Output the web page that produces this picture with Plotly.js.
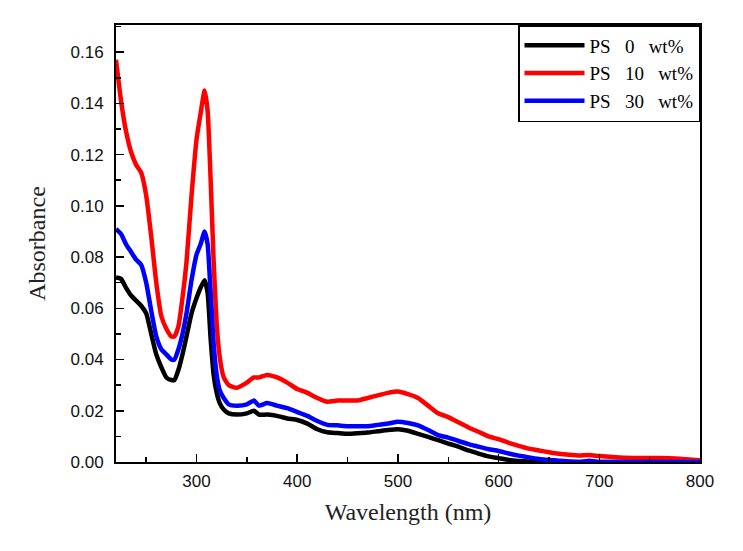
<!DOCTYPE html>
<html><head><meta charset="utf-8">
<script src="https://cdn.plot.ly/plotly-3.0.1.min.js"></script>
<style>body{margin:0;background:#fff}#g{width:743px;height:551px}</style>
</head><body><div id="g"></div>
<script>
const wavelength = [220,225,230,235,240,245,250,255,260,265,270,275,278,282,286,290,295,300,304,308,311,314,317,320,323,327,332,340,350,357,362,370,380,390,400,410,420,430,440,450,460,470,480,490,500,510,520,530,540,550,560,570,580,590,600,610,620,630,640,650,660,670,680,690,700,720,740,760,780,800];
const ps0 = [0.072,0.0715,0.068,0.065,0.063,0.061,0.058,0.050,0.042,0.037,0.033,0.032,0.032,0.036,0.042,0.049,0.058,0.064,0.068,0.071,0.066,0.048,0.034,0.027,0.023,0.0205,0.019,0.0185,0.019,0.020,0.0185,0.0185,0.018,0.017,0.0164,0.015,0.0128,0.0116,0.0113,0.011,0.0112,0.0115,0.012,0.0125,0.0128,0.0122,0.011,0.0098,0.0085,0.0072,0.006,0.0045,0.0033,0.0022,0.0015,0.0008,0.0004,0.0002,0.0001,0,0,0,0,0,0,0,0,0,0,0];
const ps10 = [0.157,0.141,0.129,0.121,0.116,0.113,0.104,0.088,0.070,0.057,0.052,0.049,0.049,0.053,0.064,0.078,0.104,0.126,0.136,0.145,0.137,0.110,0.078,0.054,0.041,0.033,0.030,0.029,0.031,0.033,0.033,0.034,0.033,0.031,0.0285,0.027,0.025,0.0235,0.024,0.024,0.024,0.025,0.026,0.027,0.0275,0.0265,0.025,0.022,0.019,0.0175,0.0155,0.0135,0.0118,0.010,0.0089,0.0075,0.0063,0.0052,0.0045,0.0038,0.0032,0.0028,0.0025,0.0027,0.0023,0.0018,0.0016,0.0016,0.0013,0.0007];
const ps30 = [0.091,0.089,0.085,0.082,0.079,0.077,0.070,0.059,0.049,0.044,0.042,0.040,0.040,0.044,0.050,0.058,0.071,0.081,0.085,0.090,0.085,0.066,0.046,0.034,0.028,0.025,0.0225,0.022,0.0225,0.024,0.022,0.023,0.022,0.021,0.0195,0.018,0.016,0.0145,0.0143,0.014,0.014,0.014,0.0145,0.015,0.0157,0.0152,0.0143,0.0125,0.0105,0.0095,0.0082,0.007,0.006,0.005,0.0043,0.0033,0.0025,0.0018,0.0012,0.0008,0.0005,0.0002,0,0.0005,0,0,0,0,0,0];
const sp = "\u00a0\u00a0\u00a0";
const seriesNames = ["PS"+sp+"0"+sp+"wt%","PS"+sp+"10"+sp+"wt%","PS"+sp+"30"+sp+"wt%"];
const xTicks = [300,400,500,600,700,800];
const yTicks = [0,0.02,0.04,0.06,0.08,0.10,0.12,0.14,0.16];

const colors = ["#000000","#ff0000","#0000ff"];
const ys = [ps0, ps10, ps30];
const traces = ys.map((y,i)=>({x:wavelength,y:y,name:seriesNames[i],type:"scatter",mode:"lines",
  line:{color:colors[i],width:4.5,shape:"spline",smoothing:0.5}}));

const tickFont = {family:"Liberation Sans, Arial, sans-serif",size:17,color:"#111"};
const titleFont = {family:"Liberation Serif, serif",size:24,color:"#222"};
const layout = {
  width:743,height:551,
  margin:{l:116,r:43,t:25,b:89},
  paper_bgcolor:"#fff",plot_bgcolor:"#fff",
  showlegend:true,
  legend:{x:1,y:1,xanchor:"right",yanchor:"top",bgcolor:"#fff",bordercolor:"#000",borderwidth:1.5,
    font:{family:"Liberation Serif, serif",size:19,color:"#000"},itemwidth:60,tracegroupgap:0},
  xaxis:{range:[220,800],tickvals:xTicks,ticktext:xTicks.map(String),ticks:"inside",ticklen:8,tickwidth:1.5,tickcolor:"#000",
    minor:{dtick:50,tick0:0,ticks:"inside",ticklen:5,tickwidth:1.5,tickcolor:"#000"},
    showline:true,linecolor:"#000",linewidth:2,mirror:true,showgrid:false,zeroline:false,
    tickfont:tickFont,ticklabelstandoff:3,
    title:{text:"Wavelength (nm)",font:titleFont,standoff:13}},
  yaxis:{range:[0,0.1706],tickvals:yTicks,ticktext:yTicks.map(v=>v.toFixed(2)),ticks:"inside",ticklen:8,tickwidth:1.5,tickcolor:"#000",
    minor:{dtick:0.01,tick0:0,ticks:"inside",ticklen:5,tickwidth:1.5,tickcolor:"#000"},
    showline:true,linecolor:"#000",linewidth:2,mirror:true,showgrid:false,zeroline:false,
    tickfont:tickFont,ticklabelstandoff:7,
    title:{text:"Absorbance",font:titleFont,standoff:18}}
};
Plotly.newPlot("g",traces,layout,{displayModeBar:false,staticPlot:true});
</script></body></html>
